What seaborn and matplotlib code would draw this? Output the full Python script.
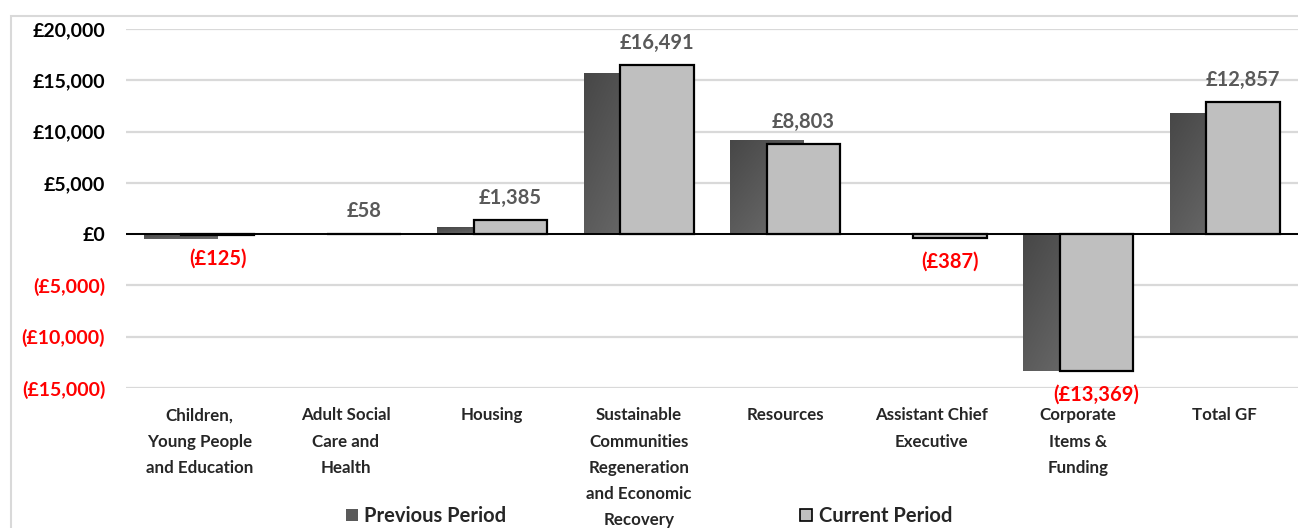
import numpy as np
import pandas as pd
import matplotlib
matplotlib.use("Agg")
import matplotlib.pyplot as plt
from matplotlib.patches import Rectangle, Patch
import seaborn as sns

categories = [
    "Children,\nYoung People\nand Education",
    "Adult Social\nCare and\nHealth",
    "Housing",
    "Sustainable\nCommunities\nRegeneration\nand Economic\nRecovery",
    "Resources",
    "Assistant Chief\nExecutive",
    "Corporate\nItems &\nFunding",
    "Total GF",
]
previous_period = [-450, 0, 650, 15730, 9210, 0, -13300, 11770]
current_period = [-125, 58, 1385, 16491, 8803, -387, -13369, 12857]
y_ticks = [-15000, -10000, -5000, 0, 5000, 10000, 15000, 20000]

sns.set_theme(style="white")
plt.rcParams["font.family"] = ["Lato", "DejaVu Sans"]
plt.rcParams["font.weight"] = "bold"

df = pd.DataFrame({"cat": categories, "prev": previous_period, "curr": current_period})

fig = plt.figure(figsize=(12.98, 5.28), dpi=100)
ax = fig.add_axes([126 / 1298, 1 - 388 / 528, 1 - 126 / 1298, (388 - 29) / 528])

# previous period (drawn first, behind), current period overlapping on top
sns.barplot(data=df, x="cat", y="prev", color="#5a5a5a", width=0.5,
            saturation=1, ax=ax, linewidth=0, zorder=2)
n = len(categories)
prev_bars = list(ax.patches)
sns.barplot(data=df, x="cat", y="curr", color="#BFBFBF", width=0.5,
            saturation=1, ax=ax, edgecolor="black", linewidth=1.6, zorder=3)
curr_bars = list(ax.patches)[n:]

offset = 0.125
for p in prev_bars:
    p.set_x(p.get_x() - offset)
for p in curr_bars:
    p.set_x(p.get_x() + offset)

# gradient fill on previous bars
grad = np.add.outer(np.linspace(0, 1, 50), np.linspace(0, 1, 50)) / 2
cmap = matplotlib.colors.LinearSegmentedColormap.from_list("g", ["#474747", "#707070"])
for p in prev_bars:
    h = p.get_height()
    if h == 0:
        continue
    x0, y0 = p.get_x(), p.get_y()
    w = p.get_width()
    y_lo, y_hi = min(y0, y0 + h), max(y0, y0 + h)
    im = ax.imshow(grad, cmap=cmap, extent=(x0, x0 + w, y_lo, y_hi),
                   aspect="auto", origin="upper", zorder=2.5, interpolation="bilinear")
    im.set_clip_path(p)

ax.set_xlim(-0.5, n - 0.5)
ax.set_ylim(-15000, 20000)
ax.set_yticks(y_ticks)
ax.set_yticklabels(["£{:,}".format(v) if v >= 0 else "(£{:,})".format(-v) for v in y_ticks])
for lbl, v in zip(ax.get_yticklabels(), y_ticks):
    lbl.set_color("black" if v >= 0 else "#FF0000")
    lbl.set_fontweight("bold")
    lbl.set_fontsize(14)
ax.tick_params(axis="y", length=0, pad=15)
ax.tick_params(axis="x", length=0, pad=14)
for lbl in ax.get_xticklabels():
    lbl.set_fontsize(12.2)
    lbl.set_fontweight("bold")
    lbl.set_linespacing(1.78)
    lbl.set_verticalalignment("top")

ax.set_xlabel("")
ax.set_ylabel("")
for s in ax.spines.values():
    s.set_visible(False)
ax.yaxis.grid(True, color="#D9D9D9", linewidth=1.6, zorder=0)
ax.set_axisbelow(True)
ax.axhline(0, color="black", linewidth=1.4, zorder=4)

# data labels on current period
for p, v in zip(curr_bars, current_period):
    xc = p.get_x() + p.get_width() / 2
    if v >= 0:
        ax.annotate("£{:,}".format(v), (xc, v), xytext=(0, 16), textcoords="offset points",
                    ha="center", va="center", color="#595959", fontsize=14.5,
                    fontweight="bold", zorder=5)
    else:
        ax.annotate("(£{:,})".format(-v), (xc, v), xytext=(0, -17), textcoords="offset points",
                    ha="center", va="center", color="#FF0000", fontsize=14.5,
                    fontweight="bold", zorder=5, annotation_clip=False)

handles = [Patch(facecolor="#5a5a5a", edgecolor="none", label="Previous Period"),
           Patch(facecolor="#BFBFBF", edgecolor="black", linewidth=1.2, label="Current Period")]
fig.legend(handles=handles, loc="center", bbox_to_anchor=(0.5, 1 - 516 / 528), ncol=2,
           frameon=False, columnspacing=14.6, handlelength=0.6, handleheight=0.6,
           handletextpad=0.3, prop={"size": 14.5, "weight": "bold"})

fig.add_artist(Rectangle((11 / 1298, -0.1), 1.1, 1.1 - 16 / 528, transform=fig.transFigure,
                         fill=False, edgecolor="#D9D9D9", linewidth=1.5))

fig.savefig("out.png", dpi=100)
